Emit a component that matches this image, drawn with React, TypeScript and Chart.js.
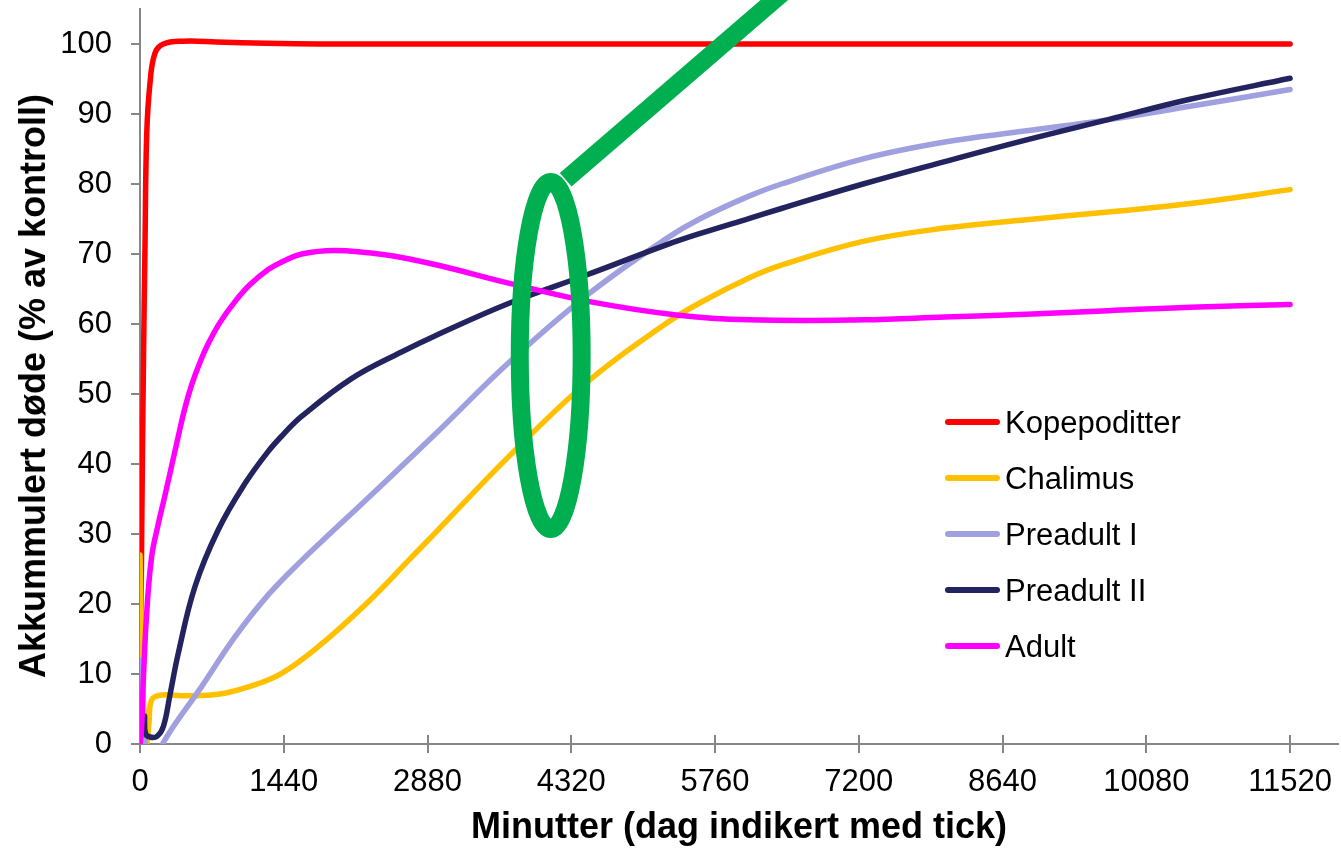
import React, { useEffect, useRef } from "react";
import { Chart, registerables } from "chart.js";

Chart.register(...registerables);

// ---------- data ----------
const xTickValues = [0, 1440, 2880, 4320, 5760, 7200, 8640, 10080, 11520];
const yTickValues = [0, 10, 20, 30, 40, 50, 60, 70, 80, 90, 100];

const seriesNames = ["Kopepoditter", "Chalimus", "Preadult I", "Preadult II", "Adult"];
const seriesColors = ["#FF0000", "#FFC000", "#A0A0E0", "#23235F", "#FF00FF"];

const kopX = [0, 17, 35, 50, 67, 100, 150, 234, 434, 767, 1268, 1800, 3000, 6000, 9000, 11520];
const kopY = [0, 30, 55, 71, 87, 94.4, 98.7, 100, 100.4, 100.3, 100.1, 100, 100, 100, 100, 100];

const chaX = [0, 20, 45, 67, 90, 117, 217, 450, 784, 1118, 1418, 1785, 2285, 2702, 2953, 3703, 4504, 5272, 5605, 6105, 6424, 7243, 8061, 8880, 9699, 10517, 11520];
const chaY = [27, 12, 3, 0, 3, 6.3, 7, 6.9, 7.1, 8.3, 10.1, 13.9, 20.3, 26.4, 30.1, 41.2, 52, 60.1, 63.0, 66.6, 68.4, 71.8, 73.7, 74.9, 76, 77.2, 79.2];

const pa1X = [0, 40, 100, 170, 225, 617, 951, 1284, 1618, 1952, 2452, 2953, 3703, 4504, 5272, 5605, 6105, 6424, 7243, 8061, 8880, 9699, 10517, 11520];
const pa1Y = [12, 2, -3, -3, 0, 8.2, 15.3, 21.3, 26.2, 30.7, 37.4, 44.2, 54.6, 64.4, 72.2, 75.0, 78.3, 80.0, 83.6, 86.0, 87.6, 89.2, 91.1, 93.5];

const pa2X = [45, 55, 100, 170, 234, 300, 384, 551, 784, 1051, 1284, 1440, 1618, 2119, 2619, 2953, 3703, 4471, 5272, 5605, 6105, 6424, 7243, 8061, 8880, 9699, 10517, 11520];
const pa2Y = [4, 1.5, 1, 1.1, 2.5, 7, 13, 22.5, 30.6, 37.2, 41.8, 44.3, 46.8, 52.2, 56.0, 58.3, 63.0, 67.0, 71.3, 72.9, 75.1, 76.5, 80.0, 83.2, 86.3, 89.2, 92.1, 95.1];

const adX = [0, 15, 33, 67, 117, 184, 250, 384, 450, 517, 600, 684, 800, 951, 1100, 1284, 1440, 1618, 1952, 2452, 2953, 3703, 4504, 5372, 6105, 7243, 8061, 8880, 9699, 10517, 11520];
const adY = [0, 2, 9, 18.7, 26.8, 31.5, 35.5, 44, 48, 51.3, 54.5, 57.2, 60.2, 63.2, 65.6, 67.8, 69, 70, 70.5, 69.9, 68.5, 65.8, 63.2, 61.3, 60.6, 60.6, 61, 61.4, 61.9, 62.4, 62.8];

const seriesX = [kopX, chaX, pa1X, pa2X, adX];
const seriesY = [kopY, chaY, pa1Y, pa2Y, adY];

// green annotation (data coordinates)
const ellipseCenter = [4114, 55.5];
const ellipseRadius = [310, 24.8];
const pointerStart = [4264, 80.6];
const pointerEnd = [7226, 117];

const FONT = "'Liberation Sans', Arial, sans-serif";
const AXIS_GRAY = "#868686";

const greenMark = {
  id: "greenMark",
  afterDatasetsDraw(chart: any) {
    const { ctx } = chart;
    const xs = chart.scales.x;
    const ys = chart.scales.y;
    const cx = xs.getPixelForValue(ellipseCenter[0]);
    const cy = ys.getPixelForValue(ellipseCenter[1]);
    const rx = Math.abs(xs.getPixelForValue(ellipseCenter[0] + ellipseRadius[0]) - cx);
    const ry = Math.abs(ys.getPixelForValue(ellipseCenter[1] + ellipseRadius[1]) - cy);
    ctx.save();
    ctx.strokeStyle = "#00B050";
    ctx.lineWidth = 18;
    ctx.beginPath();
    ctx.ellipse(cx, cy, rx, ry, 0, 0, Math.PI * 2);
    ctx.stroke();
    ctx.beginPath();
    ctx.moveTo(xs.getPixelForValue(pointerStart[0]), ys.getPixelForValue(pointerStart[1]));
    ctx.lineTo(xs.getPixelForValue(pointerEnd[0]), ys.getPixelForValue(pointerEnd[1]));
    ctx.stroke();
    ctx.restore();
  },
};

const crossTicks = {
  id: "crossTicks",
  beforeDatasetsDraw(chart: any) {
    const { ctx, chartArea } = chart;
    const xs = chart.scales.x;
    ctx.save();
    ctx.strokeStyle = AXIS_GRAY;
    ctx.lineWidth = 2;
    xs.ticks.forEach((t: any) => {
      const px = Math.round(xs.getPixelForValue(t.value));
      ctx.beginPath();
      ctx.moveTo(px, chartArea.bottom);
      ctx.lineTo(px, chartArea.bottom - 9);
      ctx.stroke();
    });
    ctx.restore();
  },
};

const legendRows = [422, 478, 534, 590, 646];

export default function App() {
  const canvasRef = useRef<HTMLCanvasElement | null>(null);

  useEffect(() => {
    if (!canvasRef.current) return;
    const datasets = seriesNames.map((name, i) => ({
      label: name,
      data: seriesX[i].map((x, j) => ({ x, y: seriesY[i][j] })),
      borderColor: seriesColors[i],
      backgroundColor: seriesColors[i],
      borderWidth: 5.5,
      pointRadius: 0,
      pointHoverRadius: 0,
      fill: false,
      tension: 0.4,
      borderCapStyle: "round" as const,
      borderJoinStyle: "round" as const,
      order: seriesNames.length - i,
    }));

    const chart = new Chart(canvasRef.current, {
      type: "line",
      data: { datasets },
      plugins: [crossTicks, greenMark],
      options: {
        animation: false,
        responsive: false,
        devicePixelRatio: 1,
        layout: { padding: { left: 0, right: 3, top: 9, bottom: 0 } },
        plugins: {
          legend: { display: false },
          tooltip: { enabled: false },
        },
        scales: {
          x: {
            type: "linear",
            min: 0,
            max: 12000,
            afterBuildTicks: (scale: any) => {
              scale.ticks = xTickValues.map((v) => ({ value: v }));
            },
            afterFit: (scale: any) => {
              scale.height = 107;
              scale.paddingLeft = 0;
              scale.paddingRight = 0;
              scale.paddingTop = 0;
              scale.paddingBottom = 0;
            },
            grid: {
              drawOnChartArea: false,
              drawTicks: true,
              tickLength: 9,
              color: AXIS_GRAY,
              lineWidth: 2,
            },
            border: { color: AXIS_GRAY, width: 2 },
            ticks: {
              color: "#000",
              padding: 11,
              maxRotation: 0,
              autoSkip: false,
              font: { family: FONT, size: 31 },
              callback: (v: any) => String(v),
            },
            title: {
              display: true,
              text: "Minutter (dag indikert med tick)",
              color: "#000",
              font: { family: FONT, size: 36, weight: "bold" },
              padding: { top: 0, bottom: 1 },
            },
          },
          y: {
            type: "linear",
            min: 0,
            max: 105,
            afterBuildTicks: (scale: any) => {
              scale.ticks = yTickValues.map((v) => ({ value: v }));
            },
            afterFit: (scale: any) => {
              scale.width = 140;
              scale.paddingLeft = 0;
              scale.paddingRight = 0;
              scale.paddingTop = 0;
              scale.paddingBottom = 0;
            },
            grid: {
              drawOnChartArea: false,
              drawTicks: true,
              tickLength: 9,
              color: AXIS_GRAY,
              lineWidth: 2,
            },
            border: { color: AXIS_GRAY, width: 2 },
            ticks: {
              color: "#000",
              padding: 19,
              autoSkip: false,
              font: { family: FONT, size: 31 },
              callback: (v: any) => String(v),
            },
            title: { display: false },
          },
        },
      },
    });
    return () => chart.destroy();
  }, []);

  return (
    <div
      style={{
        position: "fixed",
        left: 0,
        top: 0,
        width: 1341,
        height: 851,
        background: "#fff",
        overflow: "hidden",
      }}
    >
      <canvas ref={canvasRef} width={1341} height={851} style={{ width: 1341, height: 851, display: "block" }} />
      <div
        style={{
          position: "absolute",
          left: 33,
          top: 386,
          transform: "translate(-50%, -50%) rotate(-90deg)",
          whiteSpace: "nowrap",
          fontFamily: FONT,
          fontWeight: "bold",
          fontSize: 36,
          lineHeight: "36px",
          color: "#000",
        }}
      >
        Akkummulert døde (% av kontroll)
      </div>
      {seriesNames.map((name, i) => (
        <React.Fragment key={name}>
          <div
            style={{
              position: "absolute",
              left: 945,
              top: legendRows[i] - 3,
              width: 55,
              height: 6,
              borderRadius: 3,
              background: seriesColors[i],
            }}
          />
          <div
            style={{
              position: "absolute",
              left: 1005,
              top: legendRows[i] - 15,
              fontFamily: FONT,
              fontSize: 31,
              lineHeight: "31px",
              color: "#000",
              whiteSpace: "nowrap",
            }}
          >
            {name}
          </div>
        </React.Fragment>
      ))}
    </div>
  );
}
